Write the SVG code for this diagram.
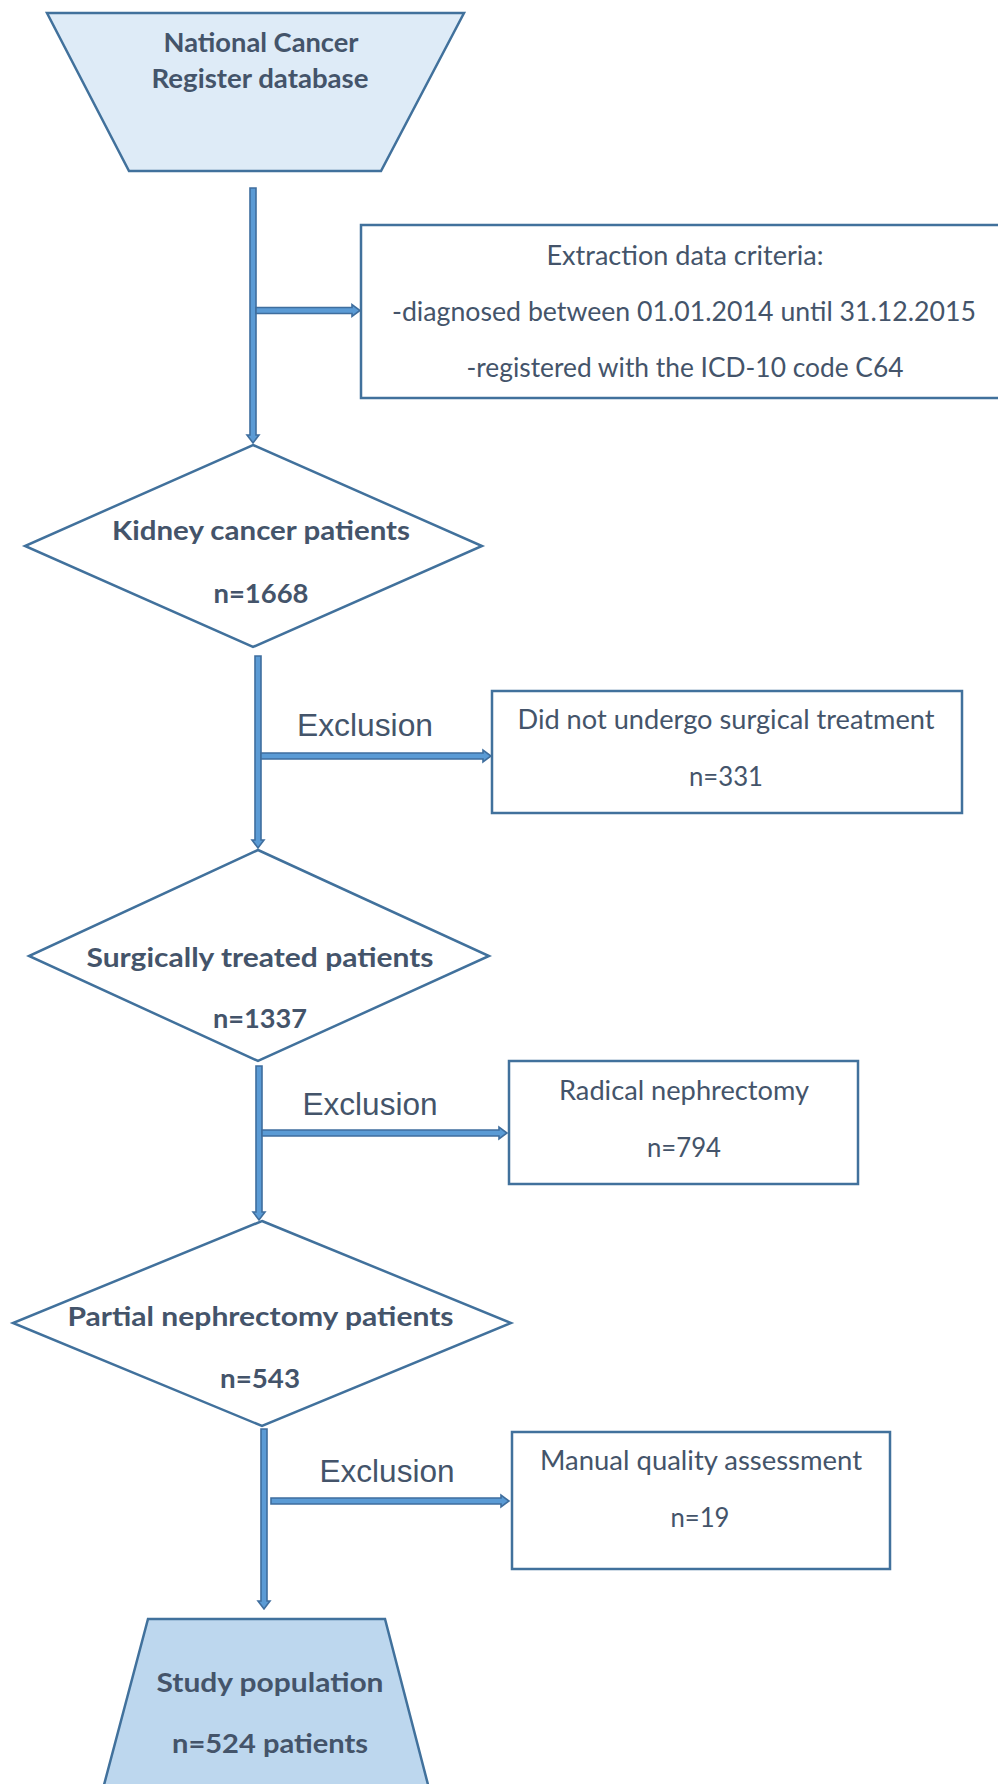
<svg xmlns="http://www.w3.org/2000/svg" width="998" height="1784" viewBox="0 0 998 1784">
<style>
.node{fill:#FFFFFF;stroke:#41719C;stroke-width:2.5;stroke-linejoin:miter}
.light{fill:#DEEBF7}
.mid{fill:#BDD7EE}
.b{font-family:Lato,"Open Sans",sans-serif;font-weight:bold;font-size:27px;fill:#44546A;text-anchor:middle}
.r{font-family:Lato,"Open Sans",sans-serif;font-size:26px;fill:#44546A;text-anchor:middle}
.ex{font-family:"Liberation Sans",Arial,sans-serif;font-size:31px;fill:#44546A;text-anchor:middle}
.arr{fill:#5B9BD5;stroke:#3F6E9E;stroke-width:1.6;stroke-linejoin:miter}
</style>
<rect width="998" height="1784" fill="#FFFFFF"/>
<g id="connectors">
<polygon class="arr" points="250,188 256,188 256,435 259,435 253,443 247,435 250,435"/>
<polygon class="arr" points="256,307.5 352,307.5 352,304.5 360,310.5 352,316.5 352,313.5 256,313.5"/>
<polygon class="arr" points="255,656 261,656 261,840 264,840 258,848 252,840 255,840"/>
<polygon class="arr" points="261,753 483,753 483,750 491,756 483,762 483,759 261,759"/>
<polygon class="arr" points="256,1066 262,1066 262,1212 265,1212 259,1220 253,1212 256,1212"/>
<polygon class="arr" points="262,1130 499,1130 499,1127 507,1133 499,1139 499,1136 262,1136"/>
<polygon class="arr" points="261,1429 267,1429 267,1601 270,1601 264,1609 258,1601 261,1601"/>
<polygon class="arr" points="271,1498 501,1498 501,1495 509,1501 501,1507 501,1504 271,1504"/>
<text class="ex" x="365" y="736" textLength="136" lengthAdjust="spacingAndGlyphs">Exclusion</text>
<text class="ex" x="370" y="1115" textLength="135" lengthAdjust="spacingAndGlyphs">Exclusion</text>
<text class="ex" x="387" y="1482" textLength="135" lengthAdjust="spacingAndGlyphs">Exclusion</text>
</g>
<g id="node-database">
<polygon class="node light" points="47,13 464,13 381,171 129,171"/>
<text class="b" x="261" y="52" textLength="195" lengthAdjust="spacingAndGlyphs">National Cancer</text>
<text class="b" x="260" y="88" textLength="217" lengthAdjust="spacingAndGlyphs">Register database</text>
</g>
<g id="node-criteria">
<rect class="node" x="361" y="225" width="660" height="173"/>
<text class="r" x="685" y="265" textLength="277" lengthAdjust="spacingAndGlyphs">Extraction data criteria:</text>
<text class="r" x="684" y="321" textLength="584" lengthAdjust="spacingAndGlyphs">-diagnosed between 01.01.2014 until 31.12.2015</text>
<text class="r" x="685" y="377" textLength="437" lengthAdjust="spacingAndGlyphs">-registered with the ICD-10 code C64</text>
</g>
<g id="node-kidney">
<polygon class="node" points="253,445 482,546 253,647 25,546"/>
<text class="b" x="261" y="540" textLength="298" lengthAdjust="spacingAndGlyphs">Kidney cancer patients</text>
<text class="b" x="261" y="603" textLength="95" lengthAdjust="spacingAndGlyphs">n=1668</text>
</g>
<g id="node-nosurgery">
<rect class="node" x="492" y="691" width="470" height="122"/>
<text class="r" x="726" y="729" textLength="417" lengthAdjust="spacingAndGlyphs">Did not undergo surgical treatment</text>
<text class="r" x="726" y="786" textLength="74" lengthAdjust="spacingAndGlyphs">n=331</text>
</g>
<g id="node-surgical">
<polygon class="node" points="258,850 489,956 258,1061 29,956"/>
<text class="b" x="260" y="967" textLength="347" lengthAdjust="spacingAndGlyphs">Surgically treated patients</text>
<text class="b" x="260" y="1028" textLength="94" lengthAdjust="spacingAndGlyphs">n=1337</text>
</g>
<g id="node-radical">
<rect class="node" x="509" y="1061" width="349" height="123"/>
<text class="r" x="684" y="1100" textLength="250" lengthAdjust="spacingAndGlyphs">Radical nephrectomy</text>
<text class="r" x="684" y="1157" textLength="74" lengthAdjust="spacingAndGlyphs">n=794</text>
</g>
<g id="node-partial">
<polygon class="node" points="262,1221 511,1323 262,1426 13,1323"/>
<text class="b" x="260.5" y="1326" textLength="386" lengthAdjust="spacingAndGlyphs">Partial nephrectomy patients</text>
<text class="b" x="260" y="1388" textLength="80" lengthAdjust="spacingAndGlyphs">n=543</text>
</g>
<g id="node-manual">
<rect class="node" x="512" y="1432" width="378" height="137"/>
<text class="r" x="701" y="1470" textLength="322" lengthAdjust="spacingAndGlyphs">Manual quality assessment</text>
<text class="r" x="700" y="1527" textLength="59" lengthAdjust="spacingAndGlyphs">n=19</text>
</g>
<g id="node-study">
<polygon class="node mid" points="148,1619 385,1619 432,1800 100,1800"/>
<text class="b" x="270" y="1692" textLength="227" lengthAdjust="spacingAndGlyphs">Study population</text>
<text class="b" x="270" y="1753" textLength="196" lengthAdjust="spacingAndGlyphs">n=524 patients</text>
</g>
</svg>
